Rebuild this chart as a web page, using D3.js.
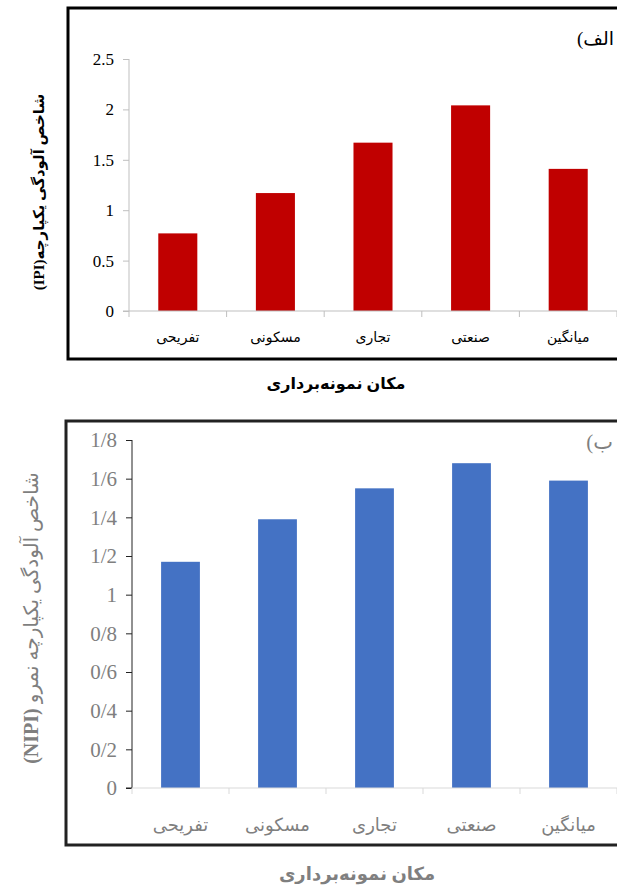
<!DOCTYPE html>
<html><head><meta charset="utf-8">
<script src="https://cdn.jsdelivr.net/npm/d3@7/dist/d3.min.js"></script>
<style>body{margin:0;background:#fff}svg{display:block}</style>
</head><body>
<svg id="c" width="617" height="888"></svg>
<script>
const categories = ["تفریحی","مسکونی","تجاری","صنعتی","میانگین"];
const ipiValues = [0.77, 1.17, 1.67, 2.04, 1.41];
const nipiValues = [1.17, 1.39, 1.55, 1.68, 1.59];
const ipiTicks = [0, 0.5, 1, 1.5, 2, 2.5];
const ipiTickLabels = ["0","0.5","1","1.5","2","2.5"];
const nipiTicks = [0, 0.2, 0.4, 0.6, 0.8, 1, 1.2, 1.4, 1.6, 1.8];
const nipiTickLabels = ["0","0/2","0/4","0/6","0/8","1","1/2","1/4","1/6","1/8"];
const titles = {
  a: {panel:"الف)", y:"شاخص آلودگی یکپارچه(IPI)", yBoldAll:true, x:"مکان نمونه‌برداری"},
  b: {panel:"ب)", y:"شاخص آلودگی یکپارچه نمرو (NIPI)", yBoldAll:false, x:"مکان نمونه‌برداری"}
};

const svg = d3.select("#c");
const serif = "'Liberation Serif','Times New Roman','DejaVu Serif',serif";
const fa = "'Liberation Serif','DejaVu Sans',serif";

function panel(cfg){
  const g = svg.append("g");
  g.append("rect").attr("x",cfg.frame[0]).attr("y",cfg.frame[1])
    .attr("width",cfg.frame[2]).attr("height",cfg.frame[3])
    .attr("fill","none").attr("stroke",cfg.frameColor).attr("stroke-width",3);
  const x = d3.scaleBand().domain(categories).range(cfg.xr).paddingInner(0.6).paddingOuter(0.3);
  const y = d3.scaleLinear().domain([0, cfg.ymax]).range(cfg.yr);
  g.selectAll("rect.bar").data(cfg.values).join("rect").attr("class","bar")
    .attr("x",(d,i)=>x(categories[i])).attr("width",x.bandwidth())
    .attr("y",d=>y(d)).attr("height",d=>y(0)-y(d)).attr("fill",cfg.color);
  const ya = g.append("g").attr("transform",`translate(${cfg.yAxisX},0)`)
    .call(d3.axisLeft(y).tickValues(cfg.ticks).tickFormat((d,i)=>cfg.tickLabels[i]).tickSize(6).tickPadding(9));
  ya.attr("font-family",serif);
  ya.select(".domain").attr("stroke",cfg.yAxisColor).attr("d",`M-0,${y(cfg.ymax)}H0V${y(0)}H-6`);
  ya.selectAll(".tick line").attr("stroke",cfg.yAxisColor);
  ya.selectAll(".tick text").style("font-family",serif).attr("font-size",cfg.tickFont).attr("fill",cfg.textColor);
  const step = x.step(), off = (step - x.bandwidth())/2;
  const xa = g.append("g");
  xa.append("line").attr("x1",cfg.xr[0]).attr("x2",cfg.xr[1]).attr("y1",y(0)).attr("y2",y(0)).attr("stroke",cfg.xAxisColor).attr("stroke-width",1.2);
  const bounds = categories.map(c=>x(c)-off).concat([x(categories[categories.length-1])+x.bandwidth()+off]);
  xa.selectAll("line.t").data(bounds).join("line").attr("class","t")
    .attr("x1",d=>d).attr("x2",d=>d).attr("y1",y(0)).attr("y2",y(0)+6).attr("stroke",cfg.xAxisColor);
  xa.selectAll("text").data(categories).join("text")
    .attr("x",c=>x(c)+x.bandwidth()/2).attr("y",y(0)+cfg.catDy)
    .attr("text-anchor","middle").attr("direction","rtl")
    .attr("font-family",fa).attr("font-size",cfg.catFont).attr("fill",cfg.textColor).text(c=>c);
  g.append("text").attr("x",cfg.panelPos[0]).attr("y",cfg.panelPos[1]).attr("direction","rtl")
    .attr("text-anchor","start").attr("font-family",fa).attr("font-size",cfg.panelFont).attr("fill",cfg.textColor).text(cfg.t.panel);
  const yt = g.append("text").attr("transform",`translate(${cfg.yTitle[0]},${cfg.yTitle[1]}) rotate(-90)`)
    .attr("text-anchor","middle").attr("direction","rtl")
    .attr("font-weight", cfg.t.yBoldAll ? "bold" : "normal")
    .attr("font-family",fa).attr("font-size",cfg.yTitleFont).attr("fill",cfg.textColor);
  if (cfg.t.yBoldAll) yt.text(cfg.t.y);
  else {
    const k = cfg.t.y.indexOf("(");
    yt.append("tspan").text(cfg.t.y.slice(0,k));
    yt.append("tspan").attr("font-weight","bold").attr("font-family",serif).text(cfg.t.y.slice(k));
  }
  g.append("text").attr("x",cfg.xTitle[0]).attr("y",cfg.xTitle[1]).attr("text-anchor","middle").attr("direction","rtl")
    .attr("font-weight","bold").attr("font-family",fa).attr("font-size",cfg.xTitleFont).attr("fill",cfg.textColor).text(cfg.t.x);
}

panel({frame:[68,8,600,351], frameColor:"#000", xr:[129,617], yr:[311,59], ymax:2.5,
  values:ipiValues, color:"#c00000", ticks:ipiTicks, tickLabels:ipiTickLabels, yAxisX:129,
  yAxisColor:"#bfbfbf", xAxisColor:"#bfbfbf", textColor:"#000", tickFont:17, catFont:14, catDy:31,
  panelPos:[614,45], panelFont:19, yTitle:[44,192], yTitleFont:15, xTitle:[336,389], xTitleFont:16, t:titles.a});

panel({frame:[66,421,600,424], frameColor:"#222", xr:[132,617], yr:[788,440], ymax:1.8,
  values:nipiValues, color:"#4472c4", ticks:nipiTicks, tickLabels:nipiTickLabels, yAxisX:132,
  yAxisColor:"#222", xAxisColor:"#d9d9d9", textColor:"#7f7f7f", tickFont:21, catFont:18, catDy:43,
  panelPos:[613,449], panelFont:21, yTitle:[38,618], yTitleFont:20, xTitle:[357,880], xTitleFont:18, t:titles.b});
</script>
</body></html>
